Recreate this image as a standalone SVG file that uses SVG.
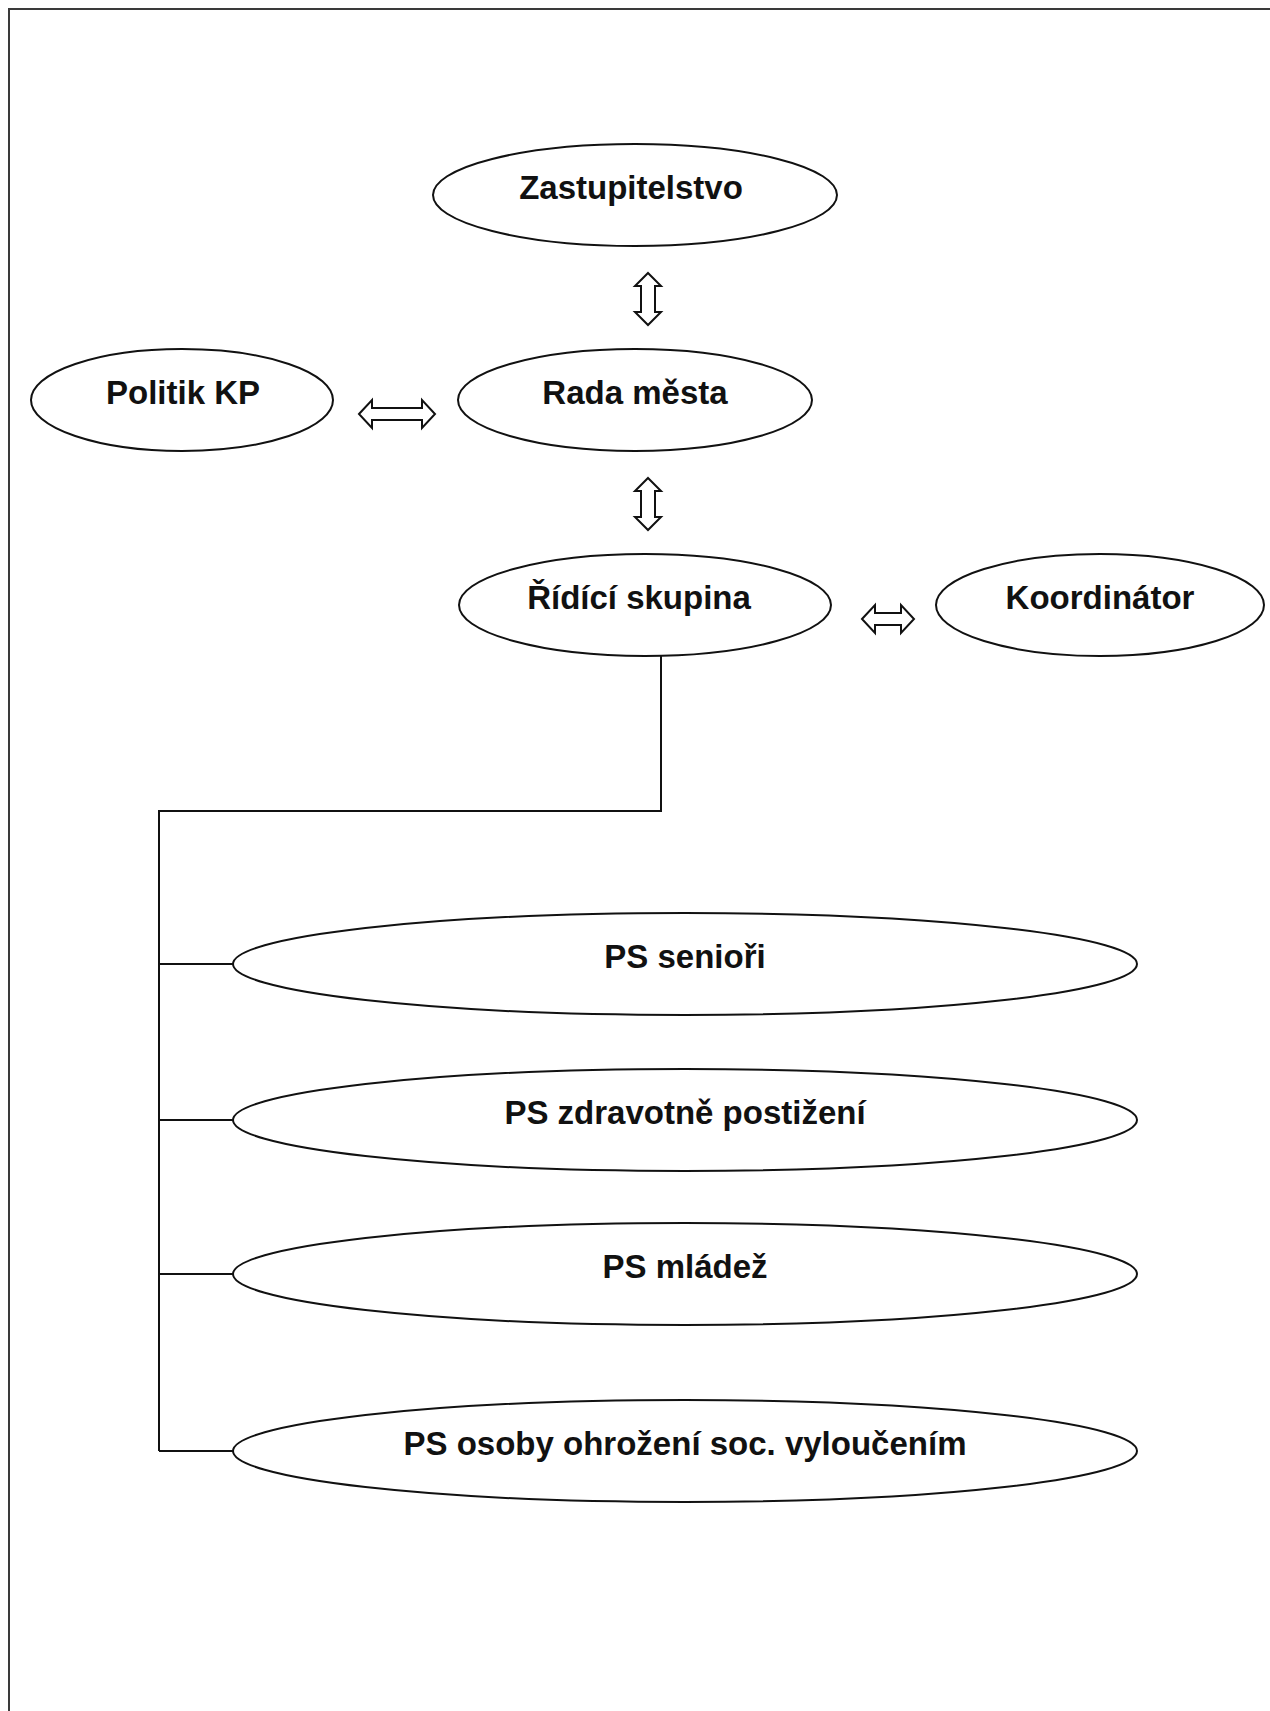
<svg xmlns="http://www.w3.org/2000/svg" width="1270" height="1711" viewBox="0 0 1270 1711">
<style>
.node ellipse{fill:#fff;stroke:#111;stroke-width:2}
.node text{font-family:"Liberation Sans",Arial,sans-serif;font-weight:bold;font-size:33px;fill:#111;text-anchor:middle}
.conn line,.conn polyline{stroke:#111;stroke-width:2;fill:none}
.arr{fill:#fff;stroke:#111;stroke-width:2;stroke-linejoin:miter}
.frame{stroke:#3a3a3a;stroke-width:2;fill:none}
</style>
<rect width="1270" height="1711" fill="#fff"/>
<polyline class="frame" points="9,1711 9,9 1270,9"/>
<g id="zastupitelstvo" class="node"><ellipse cx="635" cy="195" rx="202" ry="51"/><text x="631" y="199">Zastupitelstvo</text></g>
<g id="politik" class="node"><ellipse cx="182" cy="400" rx="151" ry="51"/><text x="183" y="404">Politik KP</text></g>
<g id="rada" class="node"><ellipse cx="635" cy="400" rx="177" ry="51"/><text x="635" y="404">Rada města</text></g>
<g id="ridici" class="node"><ellipse cx="645" cy="605" rx="186" ry="51"/><text x="639" y="609">Řídící skupina</text></g>
<g id="koordinator" class="node"><ellipse cx="1100" cy="605" rx="164" ry="51"/><text x="1100" y="609">Koordinátor</text></g>
<g id="ps-seniori" class="node"><ellipse cx="685" cy="964" rx="452" ry="51"/><text x="685" y="968">PS senioři</text></g>
<g id="ps-zdravotne" class="node"><ellipse cx="685" cy="1120" rx="452" ry="51"/><text x="685" y="1124">PS zdravotně postižení</text></g>
<g id="ps-mladez" class="node"><ellipse cx="685" cy="1274" rx="452" ry="51"/><text x="685" y="1278">PS mládež</text></g>
<g id="ps-osoby" class="node"><ellipse cx="685" cy="1451" rx="452" ry="51"/><text x="685" y="1455">PS osoby ohrožení soc. vyloučením</text></g>
<g id="connectors" class="conn">
<path class="arr" d="M648,273 L661,286 L655,286 L655,312 L661,312 L648,325 L635,312 L641,312 L641,286 L635,286 Z"/>
<path class="arr" d="M648,478 L661,491 L655,491 L655,517 L661,517 L648,530 L635,517 L641,517 L641,491 L635,491 Z"/>
<path class="arr" d="M359,414 L372,400 L372,408 L422,408 L422,400 L435,414 L422,428 L422,420 L372,420 L372,428 Z"/>
<path class="arr" d="M862,619 L875,605 L875,613 L901,613 L901,605 L914,619 L901,633 L901,625 L875,625 L875,633 Z"/>
<polyline points="661,656 661,811 159,811 159,1451"/>
<line x1="159" y1="964" x2="233" y2="964"/>
<line x1="159" y1="1120" x2="233" y2="1120"/>
<line x1="159" y1="1274" x2="233" y2="1274"/>
<line x1="159" y1="1451" x2="233" y2="1451"/>
</g>
</svg>
